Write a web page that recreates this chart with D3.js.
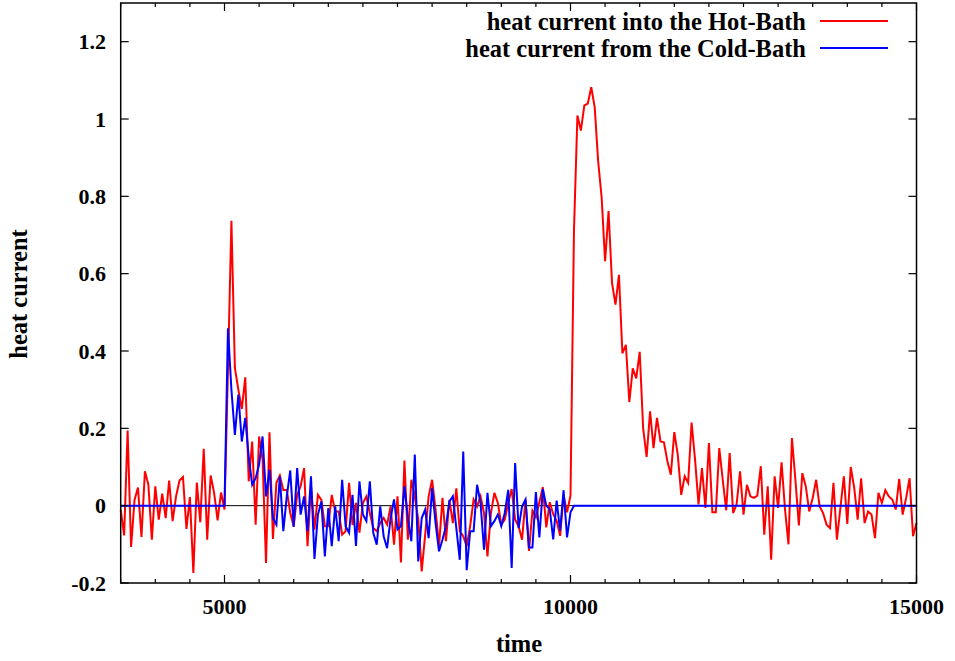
<!DOCTYPE html>
<html><head><meta charset="utf-8">
<script src="https://cdn.jsdelivr.net/npm/d3@7"></script>
<style>
html,body{margin:0;padding:0;background:#fff;}
text{font-family:"Liberation Serif","Times New Roman",serif;font-weight:bold;}
</style></head>
<body><svg id="c" width="955" height="661"></svg>
<script>
// sampling grid of the simulation output
const times = d3.range(3500, 15001, 50);

const hotBath = [
-0.01,-0.077,0.194,-0.107,0.015,0.047,-0.081,0.089,0.054,-0.088,0.05,-0.036,0.031,-0.032,0.065,-0.04,0.024,0.065,0.074,-0.06,0.022,-0.174,0.06,-0.043,0.147,-0.088,0.078,0.033,-0.038,0.034,-0.01,
0.35,0.737,0.356,0.3,0.25,0.332,0.063,
0.166,-0.049,0.179,0.12,-0.148,0.19,-0.086,0.059,0.078,0.04,0.041,-0.019,-0.053,0.028,0.05,0.097,-0.105,0.05,-0.062,0.028,0.015,-0.053,-0.053,0.028,-0.015,-0.015,-0.075,-0.066,0.059,-0.05,0.007,-0.07,0.007,0.024,-0.019,-0.058,-0.066,-0.045,-0.032,
-0.049,-0.002,-0.101,0.024,-0.147,0.117,-0.088,0.067,0.024,-0.036,-0.17,-0.075,0.024,0.067,-0.01,-0.105,0.02,-0.092,0.015,-0.045,0.045,-0.066,-0.079,-0.105,-0.053,0.016,-0.002,0.024,-0.019,-0.131,-0.019,0.033,0.007,-0.049,-0.036,0.007,0.043,-0.036,-0.053,-0.088,0.016,
-0.117,-0.013,-0.03,0.009,0.048,-0.056,0.009,-0.022,-0.039,-0.078,0.026,-0.017,0.026,
0.71,1.009,0.97,1.035,1.04,1.082,1.03,0.89,0.797,0.632,0.762,0.576,0.52,0.597,0.394,0.416,0.268,0.355,0.329,0.398,0.2,0.126,
0.244,0.149,0.227,0.166,0.164,0.115,0.08,0.19,0.132,0.028,0.076,0.059,0.215,0.119,0.003,0.097,-0.006,0.162,-0.017,-0.017,0.149,0.067,-0.012,0.136,-0.019,0.003,0.089,-0.023,0.054,0.024,0.02,0.026,0.102,-0.075,0.05,-0.14,0.076,-0.006,0.112,
-0.01,-0.1,0.175,0.067,-0.051,0.084,0.05,-0.015,0.02,0.067,-0.002,-0.019,-0.049,-0.058,0.059,-0.088,-0.006,0.076,-0.047,0.1,0.046,-0.036,0.071,-0.045,-0.015,-0.023,-0.084,0.033,0.007,0.04,0.024,0.016,-0.01,0.069,-0.023,0.02,0.071,-0.079,-0.045
];

const coldBath = [
0,0,0,0,0,0,0,0,0,0,0,0,0,0,0,0,0,0,0,0,0,0,0,0,0,0,0,0,0,0,
0,
0.459,0.3,0.183,0.287,0.166,0.227,0.127,
0.054,0.071,0.106,0.179,0.024,0.093,-0.032,-0.049,0.076,-0.066,0.024,0.091,-0.055,0.097,-0.023,0.024,-0.066,0.076,-0.138,-0.023,0.011,-0.131,-0.006,-0.105,-0.002,-0.092,0.067,-0.053,-0.07,0.028,-0.104,0.063,-0.023,-0.04,0.063,-0.07,-0.101,-0.002,-0.079,
-0.11,-0.032,0.016,-0.062,-0.053,0.05,-0.032,-0.092,0.132,-0.144,-0.032,-0.01,-0.084,0.046,-0.045,-0.118,-0.088,-0.053,0.011,0.024,-0.058,-0.14,0.14,-0.167,-0.066,-0.066,0.054,0.007,-0.114,0.033,-0.053,-0.04,-0.023,-0.053,-0.019,0.041,-0.161,0.11,-0.058,-0.002,0.016,
-0.108,-0.108,0.035,-0.082,0.043,0,-0.009,-0.087,0.013,-0.065,0.04,-0.082,-0.017,
0,0,0,0,0,0,0,0,0,0,0,0,0,0,0,0,0,0,0,0,0,0,0,0,0,0,0,0,0,0,0,0,0,0,0,0,0,0,0,0,0,0,0,0,0,0,0,0,0,0,
0,0,0,0,0,0,0,0,0,0,0,0,0,0,0,0,0,0,0,0,0,0,0,0,0,0,0,0,0,0,0,0,0,0,0,0,0,0,0,0,0,0,0,0,0,0,0,0,0,0
];

const xMajorTicks = [5000, 10000, 15000];
const xMinorTicks = d3.range(3500, 15001, 500);
const yTicks = [-0.2, 0, 0.2, 0.4, 0.6, 0.8, 1, 1.2];
const seriesNames = ["heat current into the Hot-Bath", "heat current from the Cold-Bath"];
const seriesColors = ["#ff0000", "#0000ff"];

const L = 120.7, R = 916.5, T = 3, B = 583;
const x = d3.scaleLinear().domain([3500, 15000]).range([L, R]);
const y = d3.scaleLinear().domain([-0.2, 1.3]).range([B, T]);
const svg = d3.select("#c");

// zero axis
svg.append("line").attr("x1", L).attr("x2", R).attr("y1", y(0)).attr("y2", y(0))
  .attr("stroke", "#000").attr("stroke-width", 1);

const line = d3.line().x((d, i) => x(times[i])).y(d => y(d));
[hotBath, coldBath].forEach((s, k) => {
  svg.append("path").datum(s).attr("d", line).attr("fill", "none")
    .attr("stroke", seriesColors[k]).attr("stroke-width", 2).attr("stroke-linejoin", "miter");
});

// axes with mirrored ticks
const g = svg.append("g").attr("stroke", "#000").attr("stroke-width", 1.2);
xMinorTicks.forEach(t => {
  const len = xMajorTicks.includes(t) ? 8 : 4;
  g.append("line").attr("x1", x(t)).attr("x2", x(t)).attr("y1", B).attr("y2", B - len);
  g.append("line").attr("x1", x(t)).attr("x2", x(t)).attr("y1", T).attr("y2", T + len);
});
yTicks.forEach(v => {
  g.append("line").attr("x1", L).attr("x2", L + 8).attr("y1", y(v)).attr("y2", y(v));
  g.append("line").attr("x1", R).attr("x2", R - 8).attr("y1", y(v)).attr("y2", y(v));
});
svg.append("rect").attr("x", L).attr("y", T).attr("width", R - L).attr("height", B - T)
  .attr("fill", "none").attr("stroke", "#000").attr("stroke-width", 1.5);

const fsNum = 22, fsText = 24.5;
yTicks.forEach(v => {
  svg.append("text").attr("x", 106).attr("y", y(v)).attr("dy", "0.35em")
    .attr("text-anchor", "end").attr("font-size", fsNum).text(d3.format("~g")(v).replace("−", "-"));
});
xMajorTicks.forEach(t => {
  svg.append("text").attr("x", x(t)).attr("y", 614).attr("text-anchor", "middle")
    .attr("font-size", fsNum).text(t);
});
svg.append("text").attr("x", 519).attr("y", 652).attr("text-anchor", "middle").attr("font-size", fsText).text("time");
svg.append("text").attr("transform", "translate(27,294) rotate(-90)").attr("text-anchor", "middle")
  .attr("font-size", fsText).text("heat current");

// legend
seriesNames.forEach((n, k) => {
  const ly = 21 + k * 27;
  svg.append("text").attr("x", 806).attr("y", ly).attr("dy", "0.35em").attr("text-anchor", "end")
    .attr("font-size", fsText).text(n);
  svg.append("line").attr("x1", 820).attr("x2", 888).attr("y1", ly).attr("y2", ly)
    .attr("stroke", seriesColors[k]).attr("stroke-width", 2);
});
</script></body></html>
